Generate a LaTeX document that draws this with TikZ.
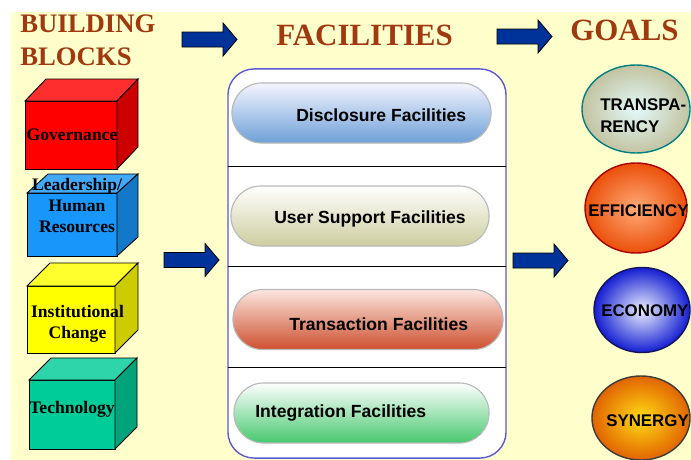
\documentclass[tikz,border=0pt]{standalone}
\usepackage{fontspec}
\setmainfont{Liberation Serif}
\setsansfont{Liberation Sans}
\usepackage{tikz}
\usetikzlibrary{shapes.geometric}

\definecolor{titlebrown}{RGB}{160,56,16}
\definecolor{bgyellow}{RGB}{255,255,204}
\definecolor{arrowblue}{RGB}{0,51,153}
\definecolor{boxline}{RGB}{90,90,210}
\definecolor{cubered}{RGB}{255,0,0}
\definecolor{cubeblue}{RGB}{25,150,250}
\definecolor{cubeyellow}{RGB}{255,255,0}
\definecolor{cubegreen}{RGB}{0,204,153}

\begin{document}
\begin{tikzpicture}[x=0.025cm,y=-0.025cm]
\tikzset{
  Title/.style={text=titlebrown, font=\fontsize{22}{26}\selectfont\bfseries, inner sep=0pt},
  BlockText/.style={font=\fontsize{12.5}{15}\selectfont\bfseries, inner sep=0pt, align=center},
  Pill/.style={draw=gray!55, line width=0.8pt, rounded corners=0.74cm, minimum height=1.5cm, inner sep=0pt},
  PillText/.style={font=\sffamily\fontsize{12.5}{15}\selectfont\bfseries, inner sep=0pt, anchor=base west},
  Goal/.style={ellipse, line width=1pt, inner sep=0pt},
  GoalText/.style={font=\sffamily\fontsize{12}{15.6}\selectfont\bfseries, inner sep=0pt, anchor=west, align=left}
}
\useasboundingbox (0,0) rectangle (691,460);
\fill[white] (0,0) rectangle (691,460);
\fill[bgyellow] (11,12) rectangle (691,460);

% column titles
\node[Title, font=\fontsize{19}{23.4}\selectfont\bfseries, anchor=north west, align=left] (blocks) at (20,15) {BUILDING\\BLOCKS};
\node[Title, anchor=base west] (facilities) at (276,46) {FACILITIES};
\node[Title, anchor=base west] (goals) at (570,40) {GOALS};

% block arrows
\foreach \ax/\ay in {182/39.5, 497/36.5, 164/260, 513/260.5}
  \draw[fill=arrowblue, line width=0.6pt] (\ax,\ay-7.5) -- ++(41,0) -- ++(0,-9) -- ++(14,16.5)
    -- ++(-14,16.5) -- ++(0,-9) -- ++(-41,0) -- cycle;

% building blocks
\foreach \cx/\cy/\cw/\ch/\dx/\dy/\col in {25/101/92/68/21/22/cubered, 27/193/90/63/21/19/cubeblue,
    27/286/88/67/23/23/cubeyellow, 29/380/86/69/22/22/cubegreen}{
  \draw[fill=\col, line width=0.6pt] (\cx,\cy) rectangle ++(\cw,\ch);
  \draw[fill=\col!82!white, line width=0.6pt] (\cx,\cy) -- ++(\dx,-\dy) -- ++(\cw,0) -- ++(-\dx,\dy) -- cycle;
  \draw[fill=\col!80!black, line width=0.6pt] (\cx+\cw,\cy) -- ++(\dx,-\dy) -- ++(0,\ch) -- ++(-\dx,\dy) -- cycle;
}
\node[BlockText, anchor=base] (gov) at (72,140) {Governance};
\node[BlockText, anchor=north] (lead) at (77,178) {Leadership/\\Human\\Resources};
\node[BlockText, anchor=north] (inst) at (77.5,305) {Institutional\\Change};
\node[BlockText, anchor=base] (tech) at (72,413) {Technology};

% facilities
\node[draw=boxline, fill=white, line width=1pt, rounded corners=0.65cm,
  minimum width=6.95cm, minimum height=9.725cm] (fac) at (367,263.5) {};
\foreach \ly in {166,266,367}
  \draw[line width=0.6pt] (228,\ly) -- (506,\ly);
\node[Pill, top color=blue!4!white, bottom color={rgb,255:red,110;green,160;blue,215},
  minimum width=6.475cm] (disc) at (361.5,113) {};
\node[Pill, top color=white, bottom color={rgb,255:red,205;green,205;blue,160},
  minimum width=6.45cm] (user) at (360,216) {};
\node[Pill, top color={rgb,255:red,252;green,230;blue,225}, bottom color={rgb,255:red,205;green,80;blue,45},
  minimum width=6.75cm] (trans) at (368,319.5) {};
\node[Pill, top color=white, bottom color={rgb,255:red,70;green,200;blue,110},
  minimum width=6.375cm] (integ) at (361.5,413) {};
\node[PillText] (disctext) at (296,121) {Disclosure Facilities};
\node[PillText] (usertext) at (274,223) {User Support Facilities};
\node[PillText] (transtext) at (289,330) {Transaction Facilities};
\node[PillText] (integtext) at (255,417) {Integration Facilities};

% goals
\node[Goal, draw={rgb,255:red,0;green,128;blue,128}, inner color={rgb,255:red,225;green,250;blue,250},
  outer color={rgb,255:red,195;green,195;blue,160}, minimum width=2.7cm, minimum height=2.2cm] (transp) at (636,109) {};
\node[Goal, draw={rgb,255:red,170;green,0;blue,0}, inner color={rgb,255:red,255;green,170;blue,120},
  outer color={rgb,255:red,235;green,80;blue,10}, minimum width=2.55cm, minimum height=2.25cm] (effic) at (636,208) {};
\node[Goal, draw={rgb,255:red,20;green,20;blue,90}, inner color={rgb,255:red,235;green,240;blue,255},
  outer color={rgb,255:red,20;green,30;blue,210}, minimum width=2.4cm, minimum height=2.125cm] (econ) at (642,310) {};
\node[Goal, draw={rgb,255:red,60;green,60;blue,60}, inner color={rgb,255:red,255;green,220;blue,20},
  outer color={rgb,255:red,225;green,100;blue,0}, minimum width=2.45cm, minimum height=2.1cm] (syn) at (641,418) {};
\node[GoalText] (transptext) at (600,115.5) {TRANSPA-\\RENCY};
\node[GoalText] (effictext) at (588,210.5) {EFFICIENCY};
\node[GoalText] (econtext) at (601,311) {ECONOMY};
\node[GoalText] (syntext) at (606,421) {SYNERGY};
\end{tikzpicture}
\end{document}
